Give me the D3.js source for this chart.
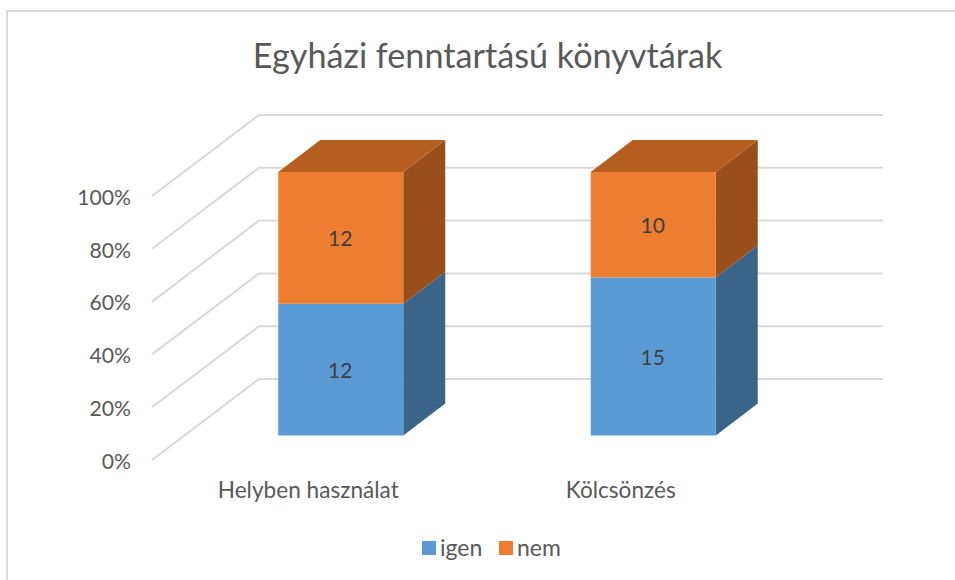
<!DOCTYPE html>
<html>
<head>
<meta charset="utf-8">
<script src="https://cdn.jsdelivr.net/npm/d3@7"></script>
<style>
  html, body { margin: 0; padding: 0; background: #fff; }
  svg { display: block; font-family: Lato, sans-serif; }
  text { fill: #595959; }
  .axis path, .axis line { display: none; }
</style>
</head>
<body>
<div id="chart"></div>
<script>
const categories = ["Helyben használat", "Kölcsönzés"];
const seriesNames = ["igen", "nem"];
const igen = [12, 15];
const nem = [12, 10];
const yTicks = [0, 0.2, 0.4, 0.6, 0.8, 1];

const width = 955, height = 580;

const colors = d3.scaleOrdinal().domain(seriesNames).range(["#5b9bd5", "#ed7d31"]);
const sideColors = d3.scaleOrdinal().domain(seriesNames).range(["#3a6488", "#994f1b"]);
const topColor = "#b55e20";

// 3d offsets: depth of the bars and depth of the whole floor
const barDepth = { x: 42, y: -32 };

const xBar = d3.scaleBand().domain(categories).range([184.5, 809.5]).paddingInner(0.6).paddingOuter(0.3);
const xFront = d3.scaleBand().domain(categories).range([152, 777]);

const yBar = d3.scaleLinear().domain([0, 1]).range([435.5, 172]);
const yFront = d3.scaleLinear().domain([0, 1]).range([460, 196]);
const yWall = d3.scaleLinear().domain([0, 1]).range([379, 115]);
const wallLeft = 259, wallRight = 883;

const svg = d3.select("#chart").append("svg")
  .attr("width", width)
  .attr("height", height);

// chart frame, only the top and left edges are in the picture
svg.append("path")
  .attr("d", `M7,${height}V11H${width}`)
  .attr("fill", "none")
  .attr("stroke", "#d9d9d9")
  .attr("stroke-width", 2);

svg.append("text")
  .attr("x", 487.5)
  .attr("y", 68)
  .attr("text-anchor", "middle")
  .style("font-size", "34.2px")
  .text("Egyházi fenntartású könyvtárak");

// gridlines: along the floor side then along the back wall
svg.append("g").selectAll("path")
  .data(yTicks)
  .enter().append("path")
  .attr("d", d => `M${xFront.range()[0]},${yFront(d)}L${wallLeft},${yWall(d)}H${wallRight}`)
  .attr("fill", "none")
  .attr("stroke", "#d9d9d9")
  .attr("stroke-width", 2);

// stack to percentages
const rows = categories.map((c, i) => ({ category: c, igen: igen[i], nem: nem[i] }));
const stacked = d3.stack().keys(seriesNames).offset(d3.stackOffsetExpand)(rows);

const barGroups = svg.append("g").selectAll("g")
  .data(stacked)
  .enter().append("g");

const poly = pts => "M" + pts.map(p => p.join(",")).join("L") + "Z";

barGroups.each(function (layer) {
  const g = d3.select(this);
  const key = layer.key;
  layer.forEach(d => {
    const cat = d.data.category;
    const x0 = xBar(cat), x1 = x0 + xBar.bandwidth();
    const y0 = yBar(d[0]), y1 = yBar(d[1]);

    // right side
    g.append("path")
      .attr("d", poly([[x1, y0], [x1 + barDepth.x, y0 + barDepth.y], [x1 + barDepth.x, y1 + barDepth.y], [x1, y1]]))
      .attr("fill", sideColors(key));

    // top only shows on the last series
    if (d[1] === 1) {
      g.append("path")
        .attr("d", poly([[x0, y1], [x0 + barDepth.x, y1 + barDepth.y], [x1 + barDepth.x, y1 + barDepth.y], [x1, y1]]))
        .attr("fill", topColor);
    }

    g.append("rect")
      .attr("x", x0)
      .attr("y", y1)
      .attr("width", xBar.bandwidth())
      .attr("height", y0 - y1)
      .attr("fill", colors(key));

    g.append("text")
      .attr("x", (x0 + x1) / 2 - 0.5)
      .attr("y", (y0 + y1) / 2 + 1)
      .attr("dy", "0.35em")
      .attr("text-anchor", "middle")
      .style("font-size", "21px")
      .style("fill", "#404040")
      .text(d.data[key]);
  });
});

// axes
svg.append("g")
  .attr("class", "axis")
  .attr("transform", "translate(131,1.5)")
  .call(d3.axisLeft(yFront).tickValues(yTicks).tickFormat(d3.format(".0%")).tickSize(0).tickPadding(0))
  .selectAll("text")
  .style("font-size", "21.2px")
  .style("font-family", "Lato, sans-serif")
  .style("fill", "#595959");

svg.append("g")
  .attr("class", "axis")
  .attr("transform", "translate(0,482)")
  .call(d3.axisBottom(xFront).tickSize(0).tickPadding(0))
  .selectAll("text")
  .style("font-size", "22.6px")
  .style("font-family", "Lato, sans-serif")
  .style("fill", "#595959");

// legend
const legendX = d3.scaleOrdinal().domain(seriesNames).range([422, 499]);
const legend = svg.append("g").selectAll("g")
  .data(seriesNames)
  .enter().append("g")
  .attr("transform", d => `translate(${legendX(d)},541)`);

legend.append("rect")
  .attr("width", 14)
  .attr("height", 14)
  .attr("fill", d => colors(d));

legend.append("text")
  .attr("x", 18)
  .attr("y", 15)
  .style("font-size", "23px")
  .text(d => d);
</script>
</body>
</html>
